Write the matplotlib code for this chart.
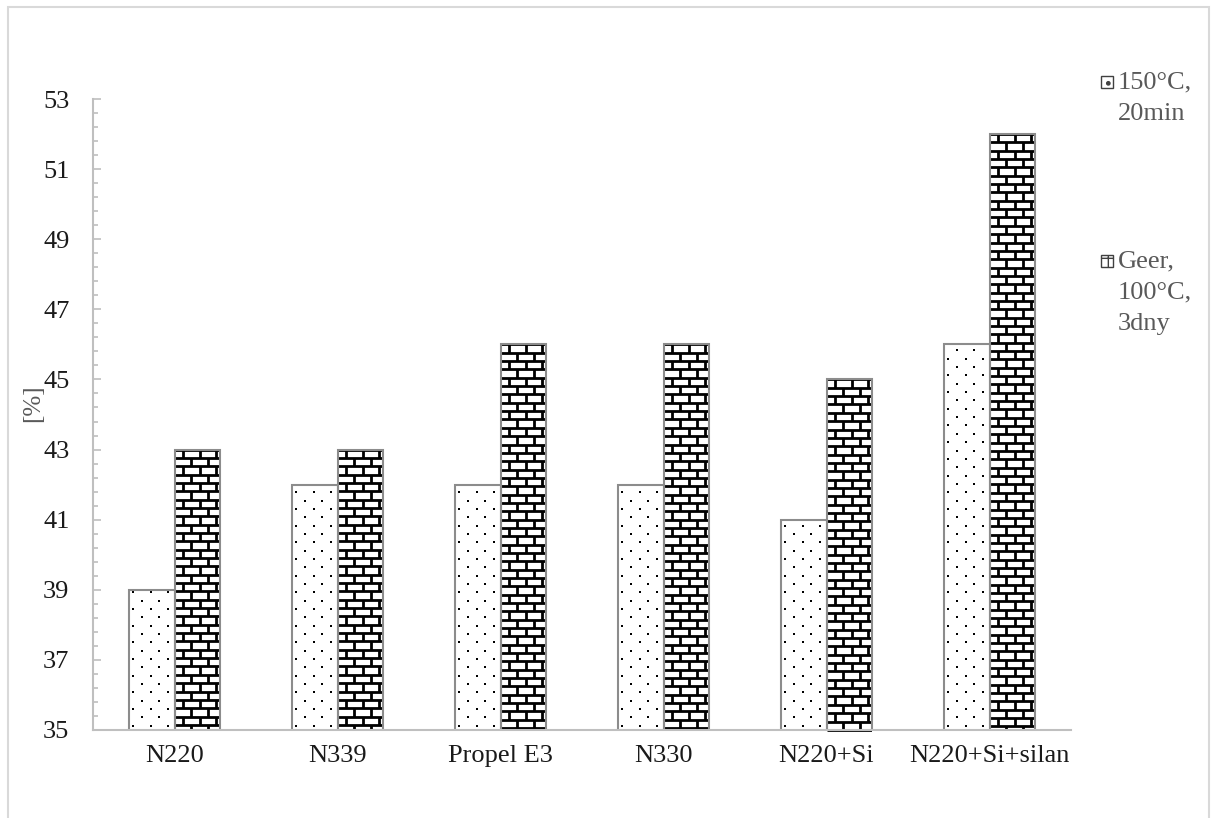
import numpy as np
import matplotlib
matplotlib.use("Agg")
import matplotlib.pyplot as plt
from matplotlib.collections import LineCollection
from matplotlib.patches import Rectangle
from matplotlib.ticker import AutoMinorLocator

categories = ["N220", "N339", "Propel E3", "N330", "N220+Si", "N220+Si+silan"]
cure_150 = [39, 42, 42, 42, 41, 46]
geer_100 = [43, 43, 46, 46, 45, 52]
y_ticks = [35, 37, 39, 41, 43, 45, 47, 49, 51, 53]
legend_lines = [["150°C,", "20min"], ["Geer,", "100°C,", "3dny"]]

plt.rcParams["font.family"] = ["Liberation Serif", "DejaVu Serif"]

W, H = 1213, 818
fig = plt.figure(figsize=(W / 100, H / 100), dpi=100)
ax = fig.add_axes([93 / W, 88 / H, 978 / W, 631 / H])
ax.set_xlim(-0.5, len(categories) - 0.5)
ax.set_ylim(y_ticks[0], y_ticks[-1])

YMIN = y_ticks[0]
BAR_W = 0.282
EDGE = "#8c8c8c"


def brick_fill(rect, bw=0.1025, bh=0.238):
    # brick texture, built from the bar's own rectangle
    x0 = rect.get_x()
    x1 = x0 + rect.get_width()
    top = rect.get_y() + rect.get_height()
    segs = []
    y = top
    row = 0
    while y > YMIN:
        segs.append([(x0, y), (x1, y)])
        xv = x0 + (bw / 2 if row % 2 == 0 else bw)
        while xv < x1:
            segs.append([(xv, y), (xv, max(y - bh, YMIN))])
            xv += bw
        y -= bh
        row += 1
    lc = LineCollection(segs, colors="black", linewidths=2.0, zorder=1.5)
    ax.add_collection(lc)
    lc.set_clip_path(rect)


def dot_fill(rect, dx=0.108, dy=0.238):
    x0 = rect.get_x()
    x1 = x0 + rect.get_width()
    top = rect.get_y() + rect.get_height()
    xs, ys = [], []
    y = YMIN + dy / 2
    row = 0
    while y < top:
        xv = x0 + (dx / 4 if row % 2 == 0 else 3 * dx / 4)
        while xv < x1:
            xs.append(xv)
            ys.append(y)
            xv += dx
        y += dy
        row += 1
    ln, = ax.plot(xs, ys, ls="none", marker="s", ms=1.7, mew=0,
                  color="black", zorder=1.5)
    ln.set_clip_path(rect)


x = np.arange(len(categories))
bars1 = ax.bar(x - BAR_W / 2, cure_150, BAR_W, facecolor="none",
               edgecolor=EDGE, linewidth=1.5, zorder=2)
bars2 = ax.bar(x + BAR_W / 2, geer_100, BAR_W, facecolor="none",
               edgecolor=EDGE, linewidth=1.5, zorder=2)
for r in bars1:
    dot_fill(r)
for r in bars2:
    brick_fill(r)

# axes styling
for s in ["top", "right"]:
    ax.spines[s].set_visible(False)
for s in ["left", "bottom"]:
    ax.spines[s].set_color("#bfbfbf")
    ax.spines[s].set_linewidth(1.5)

ax.set_yticks(y_ticks)
ax.yaxis.set_minor_locator(AutoMinorLocator(5))
ax.tick_params(axis="y", which="major", direction="in", length=5.5, width=1.2,
               color="#bfbfbf", labelsize=19, pad=17, labelcolor="#1a1a1a")
ax.tick_params(axis="y", which="minor", direction="in", length=3.5, width=1.2,
               color="#bfbfbf")
ax.set_xticks(x)
ax.set_xticklabels(categories)
ax.tick_params(axis="x", length=0, labelsize=19, pad=11, labelcolor="#1a1a1a")

fig.text(33 / W, 1 - 403 / H, "[%]", rotation=90, ha="center", va="center",
         fontsize=18, color="#595959")

# legend on the right: small swatches and wrapped labels
swatch_hatch = [".", "+"]
baselines = [[88, 120], [267, 298, 330]]
for lines, bl, hatch in zip(legend_lines, baselines, swatch_hatch):
    sw = Rectangle((1101 / W, 1 - bl[0] / H), 12 / W, 12 / H,
                   transform=fig.transFigure, facecolor="white",
                   edgecolor="#404040", hatch=hatch, linewidth=1.0)
    fig.add_artist(sw)
    for txt, b in zip(lines, bl):
        fig.text(1118 / W, 1 - b / H, txt, ha="left", va="baseline",
                 fontsize=19, color="#595959")

# chart frame
fig.add_artist(Rectangle((8 / W, -0.05), 1201 / W, 1.05 - 7 / H,
                         transform=fig.transFigure, fill=False,
                         edgecolor="#d9d9d9", linewidth=1.5))

fig.savefig("out.png", dpi=100)
